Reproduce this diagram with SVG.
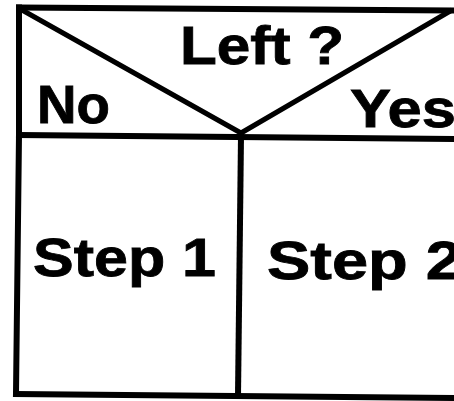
<svg xmlns="http://www.w3.org/2000/svg" width="454" height="401" viewBox="0 0 454 401">
<style>
.ln{stroke:#000;stroke-width:6;fill:none;stroke-linecap:square}
.thin{stroke:#000;stroke-width:5;fill:none}
.t{font-family:"Liberation Sans",Arial,sans-serif;font-weight:bold;font-size:53px;fill:#000;stroke:#000;stroke-width:0.8}
</style>
<rect width="454" height="401" fill="#fff"/>
<g id="connectors">
<path class="ln" d="M19,7.5 L454,10.5"/>
<path class="ln" d="M19,7.5 L19,135 L16,394"/>
<path class="ln" d="M16,394 L454,398"/>
<path class="ln" d="M19,135 L454,139"/>
<path class="ln" d="M241,136 L238,396"/>
<path class="thin" d="M22,10 L241,133 L452,10"/>
</g>
<g id="condition"><text class="t" x="180" y="64" textLength="164" lengthAdjust="spacingAndGlyphs">Left ?</text></g>
<g id="no"><text class="t" x="37" y="123" textLength="73" lengthAdjust="spacingAndGlyphs">No</text></g>
<g id="yes"><text class="t" x="350" y="127" textLength="106" lengthAdjust="spacingAndGlyphs">Yes</text></g>
<g id="step1"><text class="t" x="33" y="276" textLength="183" lengthAdjust="spacingAndGlyphs">Step 1</text></g>
<g id="step2"><text class="t" x="267" y="279" textLength="195" lengthAdjust="spacingAndGlyphs">Step 2</text></g>
</svg>
